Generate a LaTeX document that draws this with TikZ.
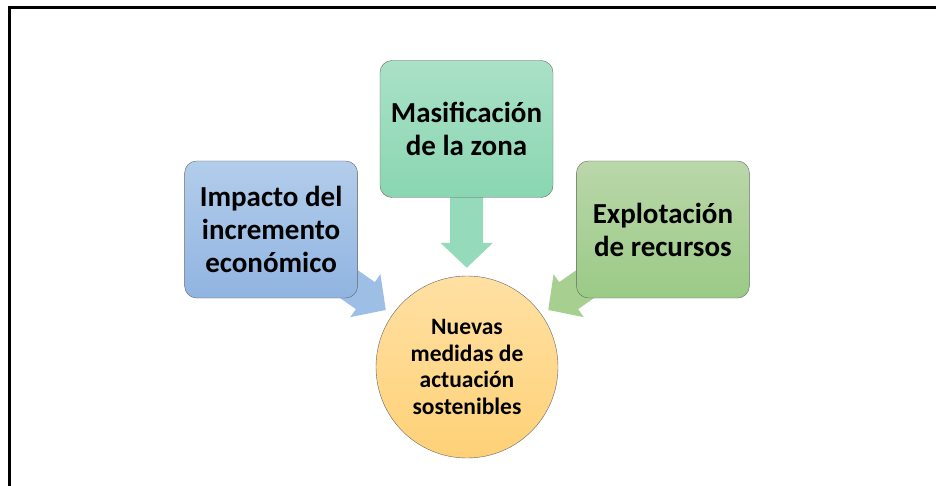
\documentclass[tikz,border=0pt]{standalone}
\usepackage{fontspec}
\setmainfont{Carlito}
\usetikzlibrary{positioning,arrows.meta,backgrounds}

\definecolor{bluetop}{HTML}{B3CDEB}
\definecolor{bluebot}{HTML}{90B4E1}
\definecolor{mintop}{HTML}{AAE1C7}
\definecolor{minbot}{HTML}{8AD6B2}
\definecolor{greentop}{HTML}{BAD7AA}
\definecolor{greenbot}{HTML}{9BCA86}
\definecolor{sunntop}{HTML}{FFE0A3}
\definecolor{sunnbot}{HTML}{FED177}
\definecolor{arrblue}{HTML}{9DBFE6}
\definecolor{arrmint}{HTML}{95DABA}
\definecolor{arrgreen}{HTML}{A6CF90}

\tikzset{
  box/.style={draw=black!60, rounded corners=12pt, minimum width=173pt,
    minimum height=137pt, inner sep=0pt, align=center,
    font=\fontsize{29}{33}\selectfont\bfseries},
  hub/.style={circle, draw=black!60, minimum size=182pt, inner sep=0pt,
    align=center, font=\fontsize{23.5}{26.5}\selectfont\bfseries,
    top color=sunntop, bottom color=sunnbot},
  flow/.style={line width=33pt, -{Triangle[width=51pt,length=25pt]},
    shorten >=8pt}
}

\begin{document}
\begin{tikzpicture}[x=1pt,y=-1pt]
  \useasboundingbox (0,0) rectangle (936,486);
  \draw[line width=3pt] (9,490) -- (9,8) -- (940,8);

  \node[hub] (ctr) at (467,367) {Nuevas\\medidas de\\actuación\\sostenibles};
  \node[box,top color=mintop,bottom color=minbot] (masif) at (466.5,129) {Masificación\\de la zona};
  \node[box,top color=bluetop,bottom color=bluebot,left=22pt of masif,yshift=-100.5pt] (impacto) {Impacto del\\incremento\\económico};
  \node[box,top color=greentop,bottom color=greenbot,right=23pt of masif,yshift=-100.5pt] (explot) {Explotación\\de recursos};

  \begin{scope}[on background layer]
    \draw[flow,draw=arrblue,fill=arrblue] (impacto.center) -- (ctr);
    \draw[flow,draw=arrmint,fill=arrmint] (masif.center) -- (ctr);
    \draw[flow,draw=arrgreen,fill=arrgreen] (explot.center) -- (ctr);
  \end{scope}
\end{tikzpicture}
\end{document}
